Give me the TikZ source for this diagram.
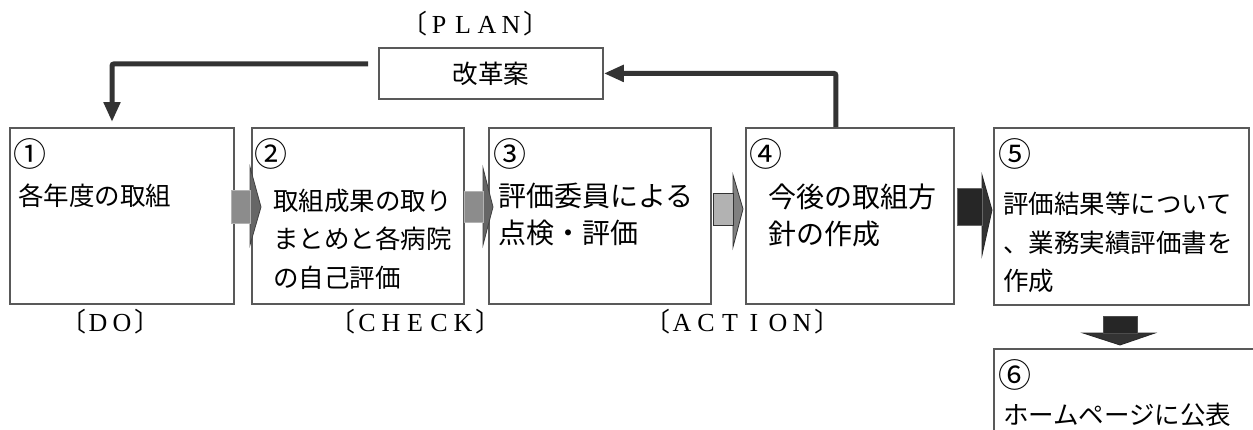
\documentclass[tikz,border=0pt]{standalone}
\usepackage{fontspec}
\setmainfont{Liberation Serif}
\newfontfamily\jp{Noto Sans CJK JP}
\usetikzlibrary{arrows.meta,calc}
\newcommand\fwl[1]{\makebox[24pt]{#1}}
\begin{document}
\begin{tikzpicture}[x=1pt,y=-1pt,
  box/.style={draw=black!65, line width=1.8pt, inner sep=0pt, anchor=north west},
  txt/.style={inner sep=0pt, anchor=base west, font=\jp\fontsize{25.5}{30}\selectfont},
  txtb/.style={txt, font=\jp\fontsize{28}{32}\selectfont},
  num/.style={inner sep=0pt, anchor=base west, font=\jp\fontsize{33}{36}\selectfont},
  lab/.style={inner sep=0pt, anchor=base, font=\fontsize{26}{28}\selectfont},
  conn/.style={draw=black!80, line width=5pt, rounded corners=2pt, -{Triangle[length=20pt,width=16pt]}},
  barrow/.style={line width=0.8pt, line join=miter},
]
\useasboundingbox (0,0) rectangle (1253,429);
\fill[white] (0,0) rectangle (1253,429);
\clip (0,0) rectangle (1253,429);

% boxes
\node[box, minimum width=224pt, minimum height=176pt] (b1) at (9,127) {};
\node[box, minimum width=212pt, minimum height=176pt] (b2) at (251,127) {};
\node[box, minimum width=222pt, minimum height=176pt] (b3) at (488,127) {};
\node[box, minimum width=208pt, minimum height=176pt] (b4) at (745,127) {};
\node[box, minimum width=255pt, minimum height=177pt] (b5) at (993,127) {};
\node[box, minimum width=300pt, minimum height=110pt] (b6) at (993,348) {};
\node[box, minimum width=224pt, minimum height=51pt] (plan) at (378,47) {};

% texts
\node[num] (n1) at (13,166) {①};
\node[txt] (t1a) at (18,205) {各年度の取組};

\node[num] (n2) at (254,166) {②};
\node[txt] (t2a) at (273,210) {取組成果の取り};
\node[txt] (t2b) at (273,248) {まとめと各病院};
\node[txt] (t2c) at (273,287) {の自己評価};

\node[num] (n3) at (493,166) {③};
\node[txtb] (t3a) at (498,206) {評価委員による};
\node[txtb] (t3b) at (498,243) {点検・評価};

\node[num] (n4) at (749,166) {④};
\node[txtb] (t4a) at (768,207) {今後の取組方};
\node[txtb] (t4b) at (768,244) {針の作成};

\node[num] (n5) at (998,166) {⑤};
\node[txt] (t5a) at (1003,213) {評価結果等について};
\node[txt] (t5b) at (1003,252) {、業務実績評価書を};
\node[txt] (t5c) at (1003,290) {作成};

\node[num] (n6) at (998,387) {⑥};
\node[txt] (t6a) at (1003,424) {ホームページに公表};

\node[txt, anchor=center] (plantxt) at (plan.center) {改革案};

% phase labels
\node[lab] (lplan) at (475,33) {{\jp 〔}\fwl{P}\fwl{L}\fwl{A}\fwl{N}{\jp 〕}};
\node[lab] (ldo) at (110,331) {{\jp 〔}\fwl{D}\fwl{O}{\jp 〕}};
\node[lab] (lcheck) at (415,331) {{\jp 〔}\fwl{C}\fwl{H}\fwl{E}\fwl{C}\fwl{K}{\jp 〕}};
\node[lab] (laction) at (742,331) {{\jp 〔}\fwl{A}\fwl{C}\fwl{T}\fwl{I}\fwl{O}\fwl{N}{\jp 〕}};

% block arrows between boxes
\path[barrow, fill=black!60, draw=black!75] (250,167) -- (261,207) -- (250,245) -- cycle;
\path[barrow, fill=black!45, draw=black!30] (231,190) rectangle (250,223);

\path[barrow, fill=black!60, draw=black!75] (483,168) -- (493,207) -- (483,245) -- cycle;
\path[barrow, fill=black!45, draw=black!30] (464,191) rectangle (483,222);

\path[barrow, fill=black!50, draw=black!80] (733,175) -- (743,209) -- (733,247) -- cycle;
\path[barrow, fill=black!30, draw=black!80] (713,193) rectangle (733,225);

\path[barrow, fill=black!80, draw=black!85] (982,175) -- (992,210) -- (982,255) -- cycle;
\path[barrow, fill=black!85, draw=black!60] (957,188) rectangle (982,225);

\path[barrow, fill=black!80, draw=black!85] (1083,333) -- (1155,333) -- (1120,345) -- cycle;
\path[barrow, fill=black!85, draw=black!70] (1103,316) rectangle (1137,333);

% PDCA connectors
\coordinate (pl) at ($(plan.west)+(-10,-9.5)$);
\coordinate (d1) at ($(b1.north west)+(103,-5)$);
\coordinate (u4) at ($(b4.north)+(-14,0)$);
\draw[conn] (pl) -| (d1);
\draw[conn] (u4) |- (plan.east);
\end{tikzpicture}
\end{document}
